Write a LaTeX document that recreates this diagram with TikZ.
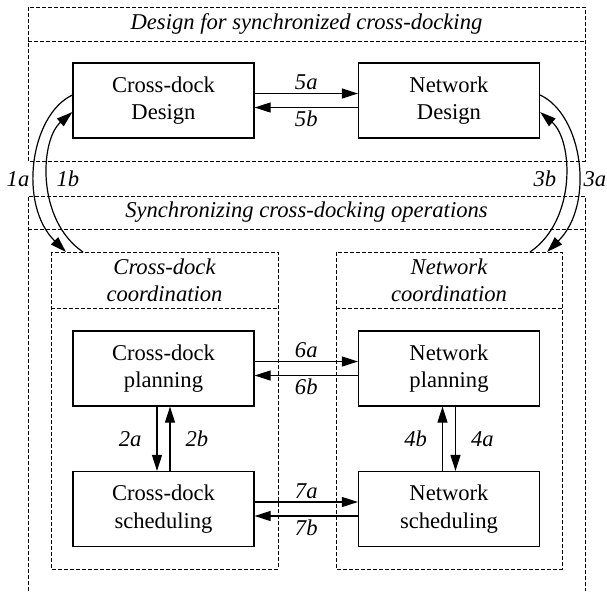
\documentclass[tikz,border=0pt]{standalone}
\usepackage{fontspec}
\setmainfont{Liberation Serif}
\usetikzlibrary{arrows.meta, positioning}

\begin{document}
\begin{tikzpicture}[x=0.5pt, y=-0.5pt, line cap=round,
	box/.style={draw, line width=0.6pt, minimum width=90.5pt, minimum height=37.5pt, inner sep=0pt, align=center, font=\fontsize{11.3}{13.7}\selectfont},
	frame/.style={draw, line width=0.5pt, line cap=butt, dash pattern=on 1.8pt off 1.2pt},
	title/.style={align=center, font=\fontsize{11.3}{13.7}\selectfont\itshape},
	lbl/.style={font=\fontsize{11.3}{13.7}\selectfont\itshape, inner sep=1.5pt},
	arr/.style={-{Triangle[length=8pt,width=5pt]}, line width=0.6pt}]

\useasboundingbox (0,0) rectangle (607,591);

% Frames
\draw[frame] (28,7) rectangle (585,161);
\draw[frame] (28,41) -- (585,41);
\draw[frame] (28,591) -- (28,196) -- (585,196) -- (585,591);
\draw[frame] (28,229) -- (585,229);
\draw[frame] (51,252) rectangle (278,569);
\draw[frame] (51,308) -- (278,308);
\draw[frame] (336,252) rectangle (562,569);
\draw[frame] (336,308) -- (562,308);

% Titles
\node[title] (design) at (306.5,24) {Design for synchronized cross-docking};
\node[title] (sync) at (306.5,212.5) {Synchronizing cross-docking operations};
\node[title] (cdcoord) at (164.5,280) {Cross-dock\\coordination};
\node[title] (nwcoord) at (449,280) {Network\\coordination};

% Boxes
\node[box] (cdd) at (163.5,100.5) {Cross-dock\\Design};
\node[box] (nwd) at (449,100.5) {Network\\Design};
\node[box] (cdp) at (163.5,368.5) {Cross-dock\\planning};
\node[box] (nwp) at (449,368.5) {Network\\planning};
\node[box] (cds) at (163.5,509) {Cross-dock\\scheduling};
\node[box] (nws) at (449,509) {Network\\scheduling};

% Horizontal arrows
\draw[arr] ([yshift=3.5pt]cdd.east) -- ([yshift=3.5pt]nwd.west) node[lbl, midway, above] {5a};
\draw[arr] ([yshift=-3.5pt]nwd.west) -- ([yshift=-3.5pt]cdd.east) node[lbl, midway, below] {5b};
\draw[arr] ([yshift=3.5pt]cdp.east) -- ([yshift=3.5pt]nwp.west) node[lbl, midway, above] {6a};
\draw[arr] ([yshift=-3.5pt]nwp.west) -- ([yshift=-3.5pt]cdp.east) node[lbl, midway, below] {6b};
\draw[arr] ([yshift=3.5pt]cds.east) -- ([yshift=3.5pt]nws.west) node[lbl, midway, above] {7a};
\draw[arr] ([yshift=-3.5pt]nws.west) -- ([yshift=-3.5pt]cds.east) node[lbl, midway, below] {7b};

% Vertical arrows
\draw[arr] ([xshift=-3.25pt]cdp.south) -- ([xshift=-3.25pt]cds.north) node[lbl, midway, left=6pt] {2a};
\draw[arr] ([xshift=3.25pt]cds.north) -- ([xshift=3.25pt]cdp.south) node[lbl, midway, right=6pt] {2b};
\draw[arr] ([xshift=-3.25pt]nws.north) -- ([xshift=-3.25pt]nwp.south) node[lbl, midway, left=6pt] {4b};
\draw[arr] ([xshift=3.25pt]nwp.south) -- ([xshift=3.25pt]nws.north) node[lbl, midway, right=6pt] {4a};

%Coordinates of the arcs
\coordinate (a1s) at ([yshift=2.75pt]cdd.west);
\coordinate (a1e) at (66,252);
\coordinate (b1s) at (83,252);
\coordinate (b1e) at ([yshift=-5.75pt]cdd.west);
\coordinate (a3s) at ([yshift=2.75pt]nwd.east);
\coordinate (a3e) at (547,252);
\coordinate (b3s) at (530,252);
\coordinate (b3e) at ([yshift=-5.75pt]nwd.east);

% Arcs
\draw[arr] (a1s) .. controls (30,115) and (18,205) .. (a1e);
\draw[arr] (b1s) .. controls (36,220) and (40,140) .. (b1e);
\draw[arr] (a3s) .. controls (583,115) and (595,205) .. (a3e);
\draw[arr] (b3s) .. controls (577,220) and (573,140) .. (b3e);

% Arc labels
\node[lbl] (l1a) at (18,179) {1a};
\node[lbl] (l1b) at (68,179) {1b};
\node[lbl] (l3b) at (545,179) {3b};
\node[lbl] (l3a) at (595,179) {3a};

\end{tikzpicture}
\end{document}
